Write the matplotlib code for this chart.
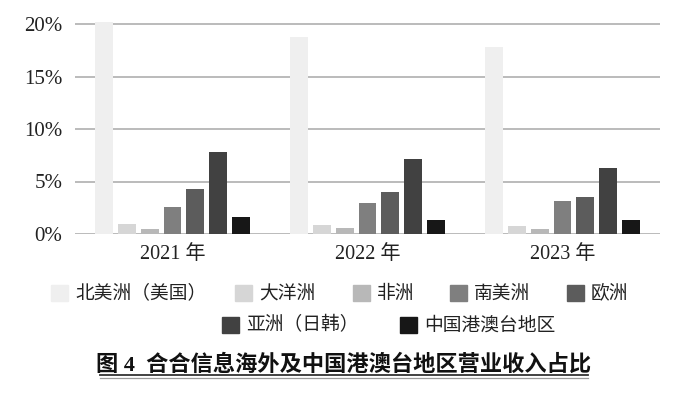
import matplotlib
matplotlib.use("Agg")
import matplotlib.pyplot as plt
import numpy as np
from matplotlib.patches import Rectangle
from matplotlib.lines import Line2D

years = ["2021 年", "2022 年", "2023 年"]
regions = ["北美洲（美国）", "大洋洲", "非洲", "南美洲", "欧洲", "亚洲（日韩）", "中国港澳台地区"]
north_america = [20.2, 18.8, 17.8]
oceania = [0.95, 0.9, 0.73]
africa = [0.45, 0.55, 0.5]
south_america = [2.55, 3.0, 3.1]
europe = [4.3, 4.0, 3.55]
asia = [7.85, 7.1, 6.25]
china_hmt = [1.6, 1.33, 1.33]
yticks = [0, 5, 10, 15, 20]
ytick_labels = ["0%", "5%", "10%", "15%", "20%"]
title = "图 4  合合信息海外及中国港澳台地区营业收入占比"

series = [north_america, oceania, africa, south_america, europe, asia, china_hmt]
colors = ["#efefef", "#d6d6d6", "#b8b8b8", "#7f7f7f", "#5c5c5c", "#414141", "#171717"]

W, H = 700, 399
fig = plt.figure(figsize=(7, 3.99), dpi=100)
ax = fig.add_axes([75 / W, 1 - 234 / H, 585 / W, (234 - 20.85) / H])

x = np.arange(len(years))
slot = 0.117
bw = 0.092
for i, (vals, c) in enumerate(zip(series, colors)):
    ax.bar(x + (i - 3) * slot, vals, width=bw, color=c, zorder=3)

ax.set_xlim(-0.5, 2.5)
ax.set_ylim(0, 20.3)
ax.set_yticks(yticks)
ax.set_yticklabels(ytick_labels, fontfamily=["Liberation Serif"], fontsize=15, color="#222222")
ax.set_xticks(x)
ax.set_xticklabels(years, fontfamily=["Liberation Serif", "Noto Sans CJK SC"], fontsize=14.5, color="#222222")
ax.tick_params(axis="both", length=0)
ax.tick_params(axis="y", pad=9)
ax.tick_params(axis="x", pad=8)
for s in ax.spines.values():
    s.set_visible(False)
for yv in yticks:
    ax.axhline(yv, color="#a8a8a8", lw=1.1, zorder=1)

# legend (manual layout, two rows)
cjk = ["Noto Sans CJK SC", "DejaVu Sans"]
row1 = [(51, 0), (235, 1), (353, 2), (450, 3), (567, 4)]
row2 = [(222, 5), (400, 6)]
for rows, yc in ((row1, 293), (row2, 325)):
    for px, idx in rows:
        fig.patches.append(Rectangle((px / W, 1 - (yc + 8) / H), 17 / W, 16 / H,
                                     transform=fig.transFigure, color=colors[idx],
                                     figure=fig))
        fig.text((px + 24) / W, 1 - yc / H, regions[idx], fontfamily=cjk, fontsize=13.5,
                 va="center", ha="left", color="#222222")

fig.text(344 / W, 1 - 365 / H, title, fontfamily=["Liberation Serif", "Noto Sans CJK SC"],
         fontsize=16, fontweight="bold", ha="center", va="center", color="#111111")
fig.add_artist(Line2D([100 / W, 588 / W], [1 - 375 / H] * 2, color="#333333", lw=1.3,
                      transform=fig.transFigure))
fig.add_artist(Line2D([100 / W, 588 / W], [1 - 378 / H] * 2, color="#9a9a9a", lw=0.9,
                      transform=fig.transFigure))

fig.savefig("out.png", dpi=100)
